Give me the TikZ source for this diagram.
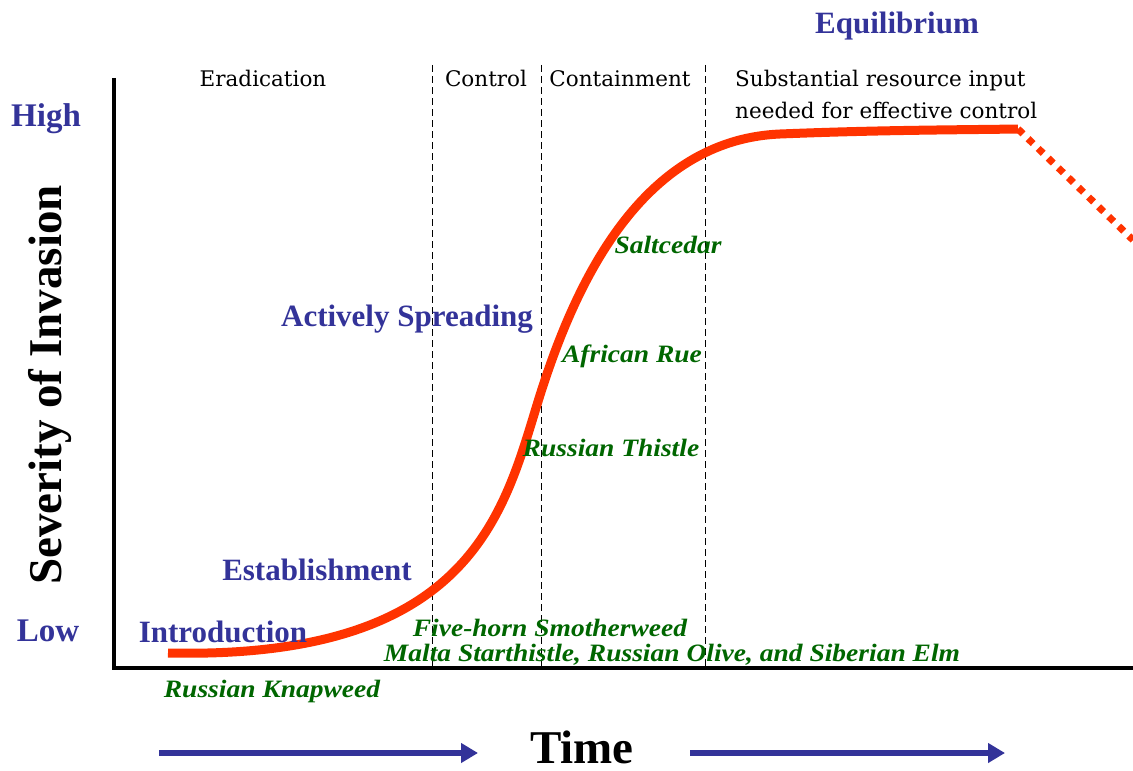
\documentclass[tikz,border=0pt]{standalone}
\usepackage{fontspec}
\setmainfont{Liberation Serif}
\newfontfamily\phasefont{DejaVu Serif}
\newfontfamily\plantfont[FakeStretch=1.1]{Liberation Serif}
\usetikzlibrary{arrows.meta}

\definecolor{stageblue}{RGB}{51,51,153}
\definecolor{plantgreen}{RGB}{0,102,0}
\definecolor{curvered}{RGB}{255,51,0}

\begin{document}
\begin{tikzpicture}[x=1bp,y=-1bp,
    every node/.style={inner sep=0pt,anchor=base},
    stage/.style={text=stageblue,font=\fontsize{31bp}{34bp}\selectfont\bfseries},
    level/.style={text=stageblue,font=\fontsize{33bp}{36bp}\selectfont\bfseries},
    plant/.style={text=plantgreen,font=\fontsize{25bp}{28bp}\selectfont\plantfont\bfseries\itshape},
    phase/.style={font=\fontsize{21.5bp}{31bp}\selectfont\phasefont},
    axislabel/.style={font=\fontsize{47bp}{50bp}\selectfont\bfseries},
    divider/.style={dash pattern=on 7bp off 4bp,line width=1bp},
    timearrow/.style={stageblue,line width=6bp,-{Triangle[length=17bp,width=19bp]}}]
  \useasboundingbox (0,0) rectangle (1133,771);

  % axes
  \draw[line width=4bp,line join=miter] (114,78) -- (114,668) -- (1133,668);

  % management phases
  \foreach \x in {432,541,705}
    \draw[divider] (\x,65) -- (\x,668);
  \node[phase] (eradication) at (263,87) {Eradication};
  \node[phase] (control) at (486,87) {Control};
  \node[phase] (containment) at (620,87) {Containment};
  \node[phase,anchor=base west,align=left] (resource) at (735,118)
    {Substantial resource input\\needed for effective control};

  % invasion curve
  \coordinate (spread mid) at (541,392);
  \coordinate (plateau) at (780,134);
  \coordinate (plateau end) at (1018,129);
  \draw[curvered,line width=9bp] (168,653)
    .. controls (480,660) and (505,505) .. (spread mid)
    .. controls (575,286) and (640,140) .. (plateau)
    .. controls (880,130) and (950,130) .. (plateau end);
  \draw[curvered,line width=7bp,dash pattern=on 7bp off 7bp] (plateau end) -- (1133,240);

  % levels and stages
  \node[stage] (equilibrium) at (897,34) {Equilibrium};
  \node[level] (high) at (46,126) {High};
  \node[level] (low) at (48,641) {Low};
  \node[axislabel,rotate=90,anchor=base] (severity) at (61,385) {Severity of Invasion};
  \node[stage] (spreading) at (407,326) {Actively Spreading};
  \node[stage] (establishment) at (317,580) {Establishment};
  \node[stage] (introduction) at (223,642) {Introduction};

  % example species
  \node[plant] (saltcedar) at (668,253) {Saltcedar};
  \node[plant] (rue) at (632,362) {African Rue};
  \node[plant] (thistle) at (611,456) {Russian Thistle};
  \node[plant] (smotherweed) at (550,636) {Five-horn Smotherweed};
  \node[plant] (malta) at (672,661) {Malta Starthistle, Russian Olive, and Siberian Elm};
  \node[plant] (knapweed) at (272,697) {Russian Knapweed};

  % time axis
  \node[axislabel] (time) at (582,763) {Time};
  \coordinate (early start) at (159,753);
  \coordinate (early end) at (478,753);
  \coordinate (late start) at (690,753);
  \coordinate (late end) at (1005,753);
  \draw[timearrow] (early start) -- (early end);
  \draw[timearrow] (late start) -- (late end);
\end{tikzpicture}
\end{document}
